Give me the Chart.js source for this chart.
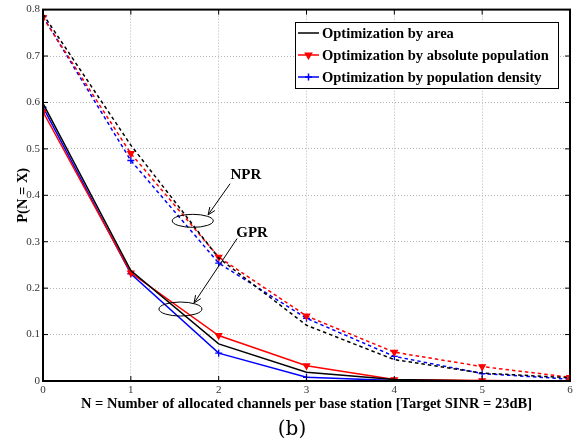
<!DOCTYPE html>
<html>
<head>
<meta charset="utf-8">
<script src="https://cdn.jsdelivr.net/npm/chart.js@4.4.1/dist/chart.umd.min.js"></script>
<style>
  html, body { margin: 0; padding: 0; background: #fff; }
  #wrap { width: 584px; height: 445px; position: relative; }
</style>
</head>
<body>
<div id="wrap"><canvas id="probChart"></canvas></div>
<script>
// N = number of channels per base station
const channels = [0, 1, 2, 3, 4, 5, 6];

// GPR curves (solid)
const gprArea    = [0.598, 0.238, 0.080, 0.019, 0.003, 0.000, 0.000];
const gprAbsPop  = [0.580, 0.233, 0.098, 0.033, 0.003, 0.001, 0.000];
const gprDensity = [0.590, 0.231, 0.060, 0.008, 0.001, 0.000, 0.000];

// NPR curves (dashed)
const nprArea    = [0.790, 0.508, 0.265, 0.120, 0.046, 0.017, 0.007];
const nprAbsPop  = [0.783, 0.490, 0.267, 0.140, 0.062, 0.031, 0.008];
const nprDensity = [0.785, 0.475, 0.254, 0.135, 0.053, 0.016, 0.004];

const seriesNames = [
    'Optimization by area',
    'Optimization by absolute population',
    'Optimization by population density'
];
const yTicks = [0, 0.1, 0.2, 0.3, 0.4, 0.5, 0.6, 0.7, 0.8];
const xTicks = [0, 1, 2, 3, 4, 5, 6];

const serif = "'Liberation Serif', 'Times New Roman', serif";
const colors = ['#000000', '#ff0000', '#0000ff'];

function toPoints(values) {
    return channels.map((n, i) => ({ x: n, y: values[i] }));
}

function makeSet(label, values, idx, dashed) {
    return {
        label: label,
        data: toPoints(values),
        borderColor: colors[idx],
        backgroundColor: colors[idx],
        borderWidth: 1.5,
        borderDash: dashed ? [3.5, 3] : [],
        pointStyle: idx === 1 ? 'triangle' : 'cross',
        rotation: idx === 1 ? 180 : 0,
        pointRadius: idx === 0 ? 0 : 3.5,
        pointBorderWidth: 1.3,
        tension: 0
    };
}

// frame, inner ticks, ellipse/arrow notes, legend box and caption
const decorPlugin = {
    id: 'decor',
    afterDatasetsDraw(chartInstance) {
        const { ctx, chartArea, scales } = chartInstance;
        const xs = scales.x, ys = scales.y;
        const px = v => xs.getPixelForValue(v);
        const py = v => ys.getPixelForValue(v);

        ctx.save();

        // small inward tick marks on all four sides
        ctx.strokeStyle = '#000';
        ctx.lineWidth = 1;
        ctx.beginPath();
        xTicks.forEach(v => {
            ctx.moveTo(px(v), chartArea.bottom); ctx.lineTo(px(v), chartArea.bottom - 5);
            ctx.moveTo(px(v), chartArea.top); ctx.lineTo(px(v), chartArea.top + 5);
        });
        yTicks.forEach(v => {
            ctx.moveTo(chartArea.left, py(v)); ctx.lineTo(chartArea.left + 5, py(v));
            ctx.moveTo(chartArea.right, py(v)); ctx.lineTo(chartArea.right - 5, py(v));
        });
        ctx.stroke();

        // box around the plot
        ctx.lineWidth = 2;
        ctx.strokeRect(chartArea.left, chartArea.top,
            chartArea.right - chartArea.left, chartArea.bottom - chartArea.top);

        // group notes: ellipse + arrow + text
        const notes = [
            { text: 'NPR', ex: 1.705, ey: 0.345, rw: 20.5, rh: 6.5, ax: 2.13, ay: 0.425, bx: 1.88, by: 0.358, tx: 2.31, ty: 0.443 },
            { text: 'GPR', ex: 1.565, ey: 0.155, rw: 21.5, rh: 7, ax: 2.21, ay: 0.307, bx: 1.72, by: 0.168, tx: 2.38, ty: 0.318 }
        ];
        ctx.lineWidth = 1;
        ctx.strokeStyle = '#000';
        ctx.fillStyle = '#000';
        notes.forEach(n => {
            ctx.beginPath();
            ctx.ellipse(px(n.ex), py(n.ey), n.rw, n.rh, 0, 0, Math.PI * 2);
            ctx.stroke();

            const x1 = px(n.ax), y1 = py(n.ay), x2 = px(n.bx), y2 = py(n.by);
            ctx.beginPath();
            ctx.moveTo(x1, y1);
            ctx.lineTo(x2, y2);
            const ang = Math.atan2(y2 - y1, x2 - x1);
            const len = 8, spread = 0.4;
            ctx.moveTo(x2 - len * Math.cos(ang - spread), y2 - len * Math.sin(ang - spread));
            ctx.lineTo(x2, y2);
            ctx.lineTo(x2 - len * Math.cos(ang + spread), y2 - len * Math.sin(ang + spread));
            ctx.stroke();

            ctx.font = 'bold 15px ' + serif;
            ctx.textAlign = 'center';
            ctx.textBaseline = 'middle';
            ctx.fillText(n.text, px(n.tx), py(n.ty));
        });

        // legend box
        const lx = 295, ly = 22, lw = 263, lh = 66;
        ctx.fillStyle = '#fff';
        ctx.fillRect(lx, ly, lw, lh);
        ctx.strokeStyle = '#000';
        ctx.lineWidth = 1;
        ctx.strokeRect(lx + 0.5, ly + 0.5, lw, lh);

        seriesNames.forEach((name, i) => {
            const yy = ly + 11 + i * 22;
            ctx.strokeStyle = colors[i];
            ctx.fillStyle = colors[i];
            ctx.lineWidth = 1.5;
            ctx.beginPath();
            ctx.moveTo(lx + 3, yy);
            ctx.lineTo(lx + 24, yy);
            ctx.stroke();
            if (i > 0) {
                Chart.helpers.drawPoint(ctx, {
                    pointStyle: i === 1 ? 'triangle' : 'cross',
                    rotation: i === 1 ? 180 : 0,
                    radius: 3.5,
                    borderWidth: 1.3
                }, lx + 13.5, yy);
            }
            ctx.fillStyle = '#000';
            ctx.font = 'bold 14.5px ' + serif;
            ctx.textAlign = 'left';
            ctx.textBaseline = 'middle';
            ctx.fillText(name, lx + 27, yy + 1);
        });

        // figure caption
        ctx.fillStyle = '#000';
        ctx.font = "20px 'DejaVu Serif', serif";
        ctx.textAlign = 'center';
        ctx.textBaseline = 'middle';
        ctx.fillText('(b)', 292, 430);

        ctx.restore();
    }
};

function renderProbChart() {
    const canvas = document.getElementById('probChart');
    if (!canvas || typeof Chart === 'undefined') return;

    const datasets = [
        makeSet(seriesNames[0], gprArea, 0, false),
        makeSet(seriesNames[1], gprAbsPop, 1, false),
        makeSet(seriesNames[2], gprDensity, 2, false),
        makeSet(seriesNames[0] + ' (NPR)', nprArea, 0, true),
        makeSet(seriesNames[1] + ' (NPR)', nprAbsPop, 1, true),
        makeSet(seriesNames[2] + ' (NPR)', nprDensity, 2, true)
    ];

    new Chart(canvas, {
        type: 'line',
        data: { datasets: datasets },
        options: {
            responsive: true,
            maintainAspectRatio: false,
            animation: false,
            layout: { padding: { top: 7, right: 14, bottom: 30, left: 0 } },
            plugins: {
                legend: { display: false },
                tooltip: { enabled: false }
            },
            scales: {
                x: {
                    type: 'linear',
                    min: 0,
                    max: 6,
                    afterFit(scale) { scale.height = 34; },
                    afterBuildTicks(scale) { scale.ticks = xTicks.map(v => ({ value: v })); },
                    ticks: {
                        color: '#333',
                        font: { family: serif, size: 11 },
                        padding: 3,
                        maxRotation: 0
                    },
                    grid: { color: '#b5b5b5', lineWidth: 1, drawTicks: false },
                    border: { display: true, color: '#000', width: 2, dash: [1, 2] },
                    title: {
                        display: true,
                        text: 'N = Number of allocated channels per base station [Target SINR = 23dB]',
                        color: '#000',
                        font: { family: serif, size: 14.5, weight: 'bold' },
                        padding: { top: 0, bottom: 2 }
                    }
                },
                y: {
                    type: 'linear',
                    min: 0,
                    max: 0.8,
                    afterFit(scale) { scale.width = 43; },
                    afterBuildTicks(scale) { scale.ticks = yTicks.map(v => ({ value: v })); },
                    ticks: {
                        color: '#333',
                        font: { family: serif, size: 11 },
                        padding: 3,
                        callback: v => String(Number(v.toFixed(1)))
                    },
                    grid: { color: '#b5b5b5', lineWidth: 1, drawTicks: false },
                    border: { display: true, color: '#000', width: 2, dash: [1, 2] },
                    title: {
                        display: true,
                        text: 'P(N = X)',
                        color: '#000',
                        font: { family: serif, size: 14.5, weight: 'bold' },
                        padding: { top: 15, bottom: 0 }
                    }
                }
            }
        },
        plugins: [decorPlugin]
    });
}

document.addEventListener('DOMContentLoaded', renderProbChart);
</script>
</body>
</html>
